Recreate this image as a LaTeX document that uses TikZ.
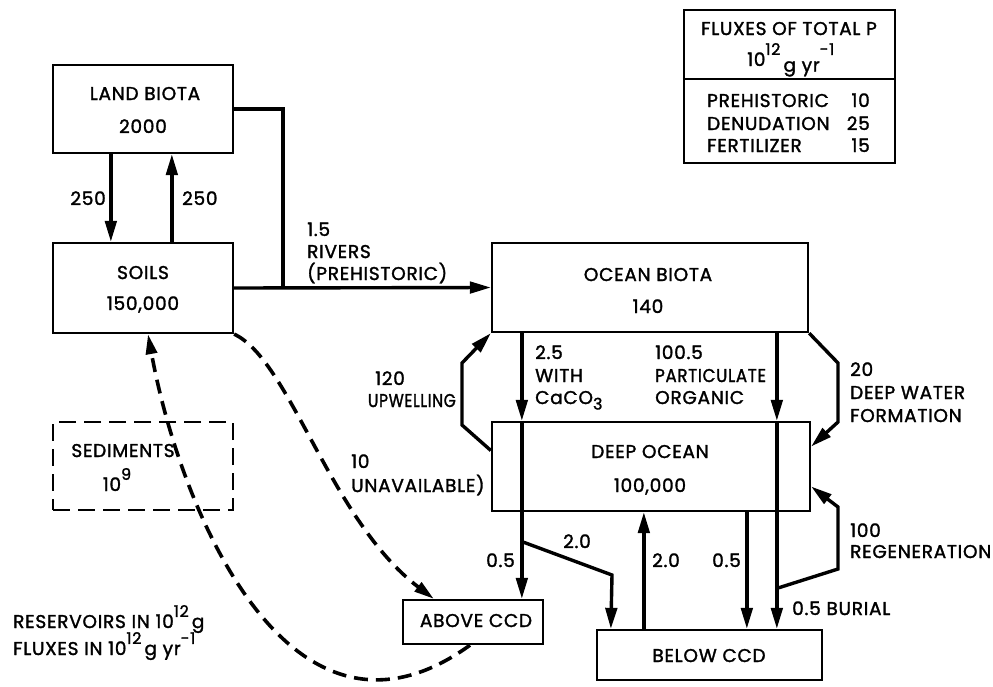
\documentclass[tikz,border=0pt]{standalone}
\usepackage{graphicx}
\usepackage{fontspec}
\setmainfont{Poppins}[LetterSpace=4, FakeBold=1.6]
\usetikzlibrary{arrows.meta,calc}
\newcommand{\upsc}[1]{\raisebox{0.6em}{\fontsize{16}{16}\selectfont #1}}
\newcommand{\lowt}[1]{\raisebox{-0.3em}{#1}}
\begin{document}
\begin{tikzpicture}[x=1pt,y=-1pt,
  box/.style={draw, line width=2.3pt, inner sep=0pt},
  dbox/.style={draw, line width=2.3pt, inner sep=0pt, dash pattern=on 17pt off 8pt},
  lbl/.style={inner sep=0pt, font=\fontsize{18.5}{22}\selectfont},
  flow/.style={line width=3.4pt, -{Triangle[length=21pt,width=11.5pt]}},
  plain/.style={line width=3.4pt},
  dflow/.style={line width=3.6pt, dash pattern=on 14pt off 8pt, -{Triangle[length=20pt,width=11pt]}},
  ]
\useasboundingbox (0,0) rectangle (993,686);

% boxes
\node[box, minimum width=180pt, minimum height=88pt] (land) at (143,109) {};
\node[box, minimum width=180pt, minimum height=90pt] (soils) at (143,288) {};
\node[box, minimum width=316pt, minimum height=89pt] (ocean) at (650,287.5) {};
\node[box, minimum width=318pt, minimum height=89pt] (deep) at (651,466.5) {};
\node[box, minimum width=140pt, minimum height=44pt] (above) at (473,622) {};
\node[box, minimum width=225pt, minimum height=50pt] (below) at (709.5,655) {};
\node[dbox, minimum width=180pt, minimum height=88pt] (sed) at (143,466) {};
\node[box, minimum width=211pt, minimum height=153pt] (legend) at (789.5,86.5) {};
\draw[line width=2.3pt] ([yshift=-70pt]legend.north west) -- ([yshift=-70pt]legend.north east);

% box texts
\node[lbl, anchor=base] (landt) at (145,100) {LAND BIOTA};
\node[lbl, anchor=base] (landn) at (143,133) {2000};
\node[lbl, anchor=base] (soilst) at (143,279) {SOILS};
\node[lbl, anchor=base] (soilst2) at (143,310) {150,000};
\node[lbl, anchor=base] (oceant) at (648,281) {OCEAN BIOTA};
\node[lbl, anchor=base] (oceann) at (648,313) {140};
\node[lbl, anchor=base] (deept) at (650,458) {DEEP OCEAN};
\node[lbl, anchor=base] (deepn) at (650,492) {100,000};
\node[lbl, anchor=base] (abovet) at (476,627) {ABOVE CCD};
\node[lbl, anchor=base] (belowt) at (709,662) {BELOW CCD};
\node[lbl, anchor=base] (sedt) at (123,457) {SEDIMENTS};
\node[lbl, anchor=base] (sedn) at (117,491) {10\upsc{9}};

% legend texts
\node[lbl, anchor=base] (legt) at (789,35) {FLUXES OF TOTAL P};
\node[lbl, anchor=base west] (legu) at (747,66) {10\upsc{12}\,\lowt{g yr}\upsc{-1}};
\node[lbl, anchor=base west] (l1) at (707,107) {PREHISTORIC};
\node[lbl, anchor=base east] (l1n) at (870,107) {10};
\node[lbl, anchor=base west] (l2) at (707,130) {DENUDATION};
\node[lbl, anchor=base east] (l2n) at (870,130) {25};
\node[lbl, anchor=base west] (l3) at (707,152) {FERTILIZER};
\node[lbl, anchor=base east] (l3n) at (870,152) {15};

% units note
\node[lbl, anchor=base west] (u1) at (13,628) {RESERVOIRS IN 10\upsc{12}\,g};
\node[lbl, anchor=base west] (u2) at (13,655) {FLUXES IN 10\upsc{12}\,g yr\upsc{-1}};

% land <-> soils
\draw[flow] ([xshift=59pt]land.south west) -- ([xshift=59pt]soils.north west);
\draw[flow] ([xshift=120pt]soils.north west) -- ([xshift=120pt]land.south west);
\node[lbl, anchor=base east] (f250a) at (106,205) {250};
\node[lbl, anchor=base west] (f250b) at (182,205) {250};

% rivers
\coordinate (rivj) at (283,288);
\draw[plain] (land.east) -| (rivj);
\draw[flow] (soils.east) -- (ocean.west);
\node[lbl, anchor=base west] (riv1) at (307,236) {1.5};
\node[lbl, anchor=base west] (riv2) at (307,258) {RIVERS};
\node[lbl, anchor=base west] (riv3) at (307,280) {(PREHISTORIC)};

% CaCO3
\draw[flow] ([xshift=31pt]ocean.south west) -- ([xshift=31pt]deep.north west);
\draw[flow] ([xshift=31pt]deep.north west) -- ([xshift=120pt]above.north west);
\coordinate (br1) at (523,542);
\draw[flow] (br1) -- (612,575) -- ([xshift=15pt]below.north west);
\node[lbl, anchor=base west] (c1) at (535,359) {2.5};
\node[lbl, anchor=base west] (c2) at (535,382) {WITH};
\node[lbl, anchor=base west] (c3) at (535,404) {CaCO\lowt{\fontsize{16}{16}\selectfont 3}};

% particulate
\draw[flow] ([xshift=286pt]ocean.south west) -- ([xshift=286pt]deep.north west);
\draw[flow] ([xshift=286pt]deep.north west) -- ([xshift=181pt]below.north west);
\node[lbl, anchor=base west] (p1) at (655,359) {100.5};
\node[lbl, anchor=base west] (p2) at (655,382) {\scalebox{0.9}[1]{PARTICULATE}};
\node[lbl, anchor=base west] (p3) at (655,404) {ORGANIC};

% regeneration
\coordinate (br2) at (778,588);
\draw[flow] (br2) -- (838,569) -- (838,507) -- ([yshift=-20pt]deep.east);
\node[lbl, anchor=base west] (r1) at (850,537) {100};
\node[lbl, anchor=base west] (r2) at (850,558) {REGENERATION};

% deep water formation
\draw[flow] (ocean.south east) -- (838,363) -- (838,422) -- ([yshift=20pt]deep.east);
\node[lbl, anchor=base west] (d1) at (850,376) {20};
\node[lbl, anchor=base west] (d2) at (850,399) {DEEP WATER};
\node[lbl, anchor=base west] (d3) at (850,422) {FORMATION};

% upwelling
\draw[flow] ([yshift=16pt]deep.west) -- (462,425) -- (462,363) -- (ocean.south west);
\node[lbl, anchor=base west] (w1) at (375,385) {120};
\node[lbl, anchor=base east] (w2) at (456,407) {\scalebox{0.84}[1]{UPWELLING}};

% below deep ocean
\draw[flow] ([xshift=48pt]below.north west) -- ([xshift=153pt]deep.south west);
\draw[flow] ([xshift=256pt]deep.south west) -- ([xshift=151pt]below.north west);
\node[lbl, anchor=base east] (b1) at (515,567) {0.5};
\node[lbl, anchor=base west] (b2) at (563,548) {2.0};
\node[lbl, anchor=base west] (b3) at (652,567) {2.0};
\node[lbl, anchor=base west] (b4) at (712,567) {0.5};
\node[lbl, anchor=base west] (b5) at (792,615) {0.5 BURIAL};

% dashed fluxes
\draw[dflow] (soils.south east) .. controls (290,360) and (330,520) .. ([xshift=32pt]above.north west);
\node[lbl, anchor=base west] (un1) at (351,468) {10};
\node[lbl, anchor=base west] (un2) at (351,492) {UNAVAILABLE)};
\draw[dflow] ([xshift=-3pt]above.south) .. controls (290,775) and (180,510) .. ([xshift=5pt]soils.south);
\end{tikzpicture}
\end{document}
